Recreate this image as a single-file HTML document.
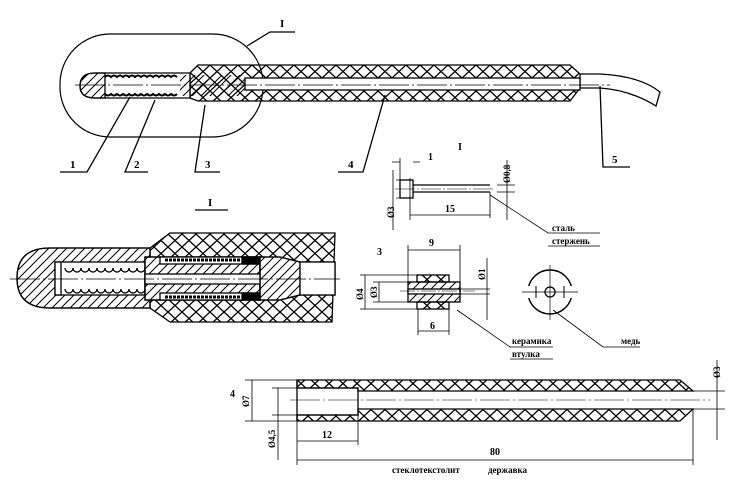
<!DOCTYPE html>
<html><head><meta charset="utf-8"><style>
html,body{margin:0;padding:0;background:#fff;width:750px;height:487px;overflow:hidden}
svg{display:block}
text{font-family:"Liberation Serif",serif;font-weight:bold;fill:#000}
</style></head><body>
<svg width="750" height="487" viewBox="0 0 750 487" xmlns="http://www.w3.org/2000/svg">
<defs>
<pattern id="x" width="14" height="13" patternUnits="userSpaceOnUse">
<path d="M0 0L14 13M14 0L0 13" stroke="#000" stroke-width="1.3"/></pattern>
<pattern id="d" width="9" height="9" patternUnits="userSpaceOnUse">
<path d="M-2 11L11 -2M-2 2L2 -2M7 11L11 7" stroke="#000" stroke-width="1"/></pattern>
</defs>
<g fill="none" stroke="#000" stroke-width="1.3">
<!-- top assembly -->
<rect x="60" y="34" width="203" height="103" rx="50" stroke-width="1.2"/>
<path d="M600 74Q640 76 660 92L656 106Q630 90 600 88" />
<path d="M580 74H600M580 88H600"/>
<path d="M190 73L198 65H570L580 74V88L570 101H198L190 98Z" fill="url(#x)"/>
<rect x="245" y="78" width="335" height="12" fill="#fff"/>
<path d="M95 73H190V98H95Q80 98 80 86Q80 73 95 73Z" fill="#fff"/>
<path d="M95 73Q80 73 80 86Q80 98 95 98H105V73Z" fill="url(#d)"/>
<rect x="180" y="75" width="65" height="21" fill="url(#d)" stroke="none"/>
<path d="M105 77Q108 74 111 77Q114 74 117 77Q120 74 123 77Q126 74 129 77Q132 74 135 77Q138 74 141 77Q144 74 147 77Q150 74 153 77Q156 74 159 77Q162 74 165 77Q168 74 171 77Q174 74 177 77" stroke-width="2"/>
<path d="M105 94Q108 97 111 94Q114 97 117 94Q120 97 123 94Q126 97 129 94Q132 97 135 94Q138 97 141 94Q144 97 147 94Q150 97 153 94Q156 97 159 94Q162 97 165 94Q168 97 171 94Q174 97 177 94" stroke-width="2"/>
<path d="M75 85H610" stroke-width="0.7" stroke-dasharray="30 3 2 3"/>
<path d="M247 46L270 32H295M130 97L87 172H60M155 100L125 172H148M205 105L195 172H220M385 95L363 172H338M600 86L603 167H630"/>
<!-- detail I -->
<path d="M150 248L170 233H335L332 322H170L150 308Z" fill="url(#x)"/>
<path d="M150 248H50Q17 248 17 278Q17 308 50 308H150Z" fill="#fff"/>
<path d="M150 248H50Q17 248 17 278Q17 308 50 308H150Z" fill="url(#d)"/>
<rect x="55" y="262" width="90" height="33" fill="#fff"/>
<rect x="145" y="257" width="115" height="43" fill="#fff"/>
<rect x="145" y="257" width="115" height="43" fill="url(#d)"/>
<rect x="160" y="257" width="100" height="7" fill="#fff"/>
<rect x="160" y="293" width="100" height="7" fill="#fff"/>
<rect x="242" y="257" width="18" height="7" fill="#000"/>
<rect x="242" y="293" width="18" height="7" fill="#000"/>
<path d="M260 257H280L300 262H335V295H300L280 300H260Z" fill="#fff"/>
<path d="M260 257H280L300 262V295L280 300H260Z" fill="url(#d)"/>
<rect x="300" y="262" width="35" height="33" fill="#fff"/>
<rect x="145" y="274" width="115" height="10" fill="#fff"/>
<rect x="55" y="262" width="6" height="33" fill="#fff"/>
<g stroke-width="1.3">
<path d="M65 268a4 4 0 1 0 8 0a4 4 0 1 0 8 0a4 4 0 1 0 8 0a4 4 0 1 0 8 0a4 4 0 1 0 8 0a4 4 0 1 0 8 0a4 4 0 1 0 8 0a4 4 0 1 0 8 0a4 4 0 1 0 8 0a4 4 0 1 0 8 0"/>
<path d="M65 289a4 4 0 1 0 8 0a4 4 0 1 0 8 0a4 4 0 1 0 8 0a4 4 0 1 0 8 0a4 4 0 1 0 8 0a4 4 0 1 0 8 0a4 4 0 1 0 8 0a4 4 0 1 0 8 0a4 4 0 1 0 8 0a4 4 0 1 0 8 0"/>
</g>
<path d="M165 260H240M165 297H240" stroke-width="3" stroke-dasharray="3 1"/>
<path d="M10 279H340" stroke-width="0.7" stroke-dasharray="30 3 2 3"/>
<path d="M195 210H228"/>
<!-- detail 1 pin -->
<rect x="400" y="180" width="13" height="18" fill="#fff"/>
<path d="M413 185H490M413 192H490" />
<path d="M395 189H495" stroke-width="0.6" stroke-dasharray="20 2 2 2"/>
<g stroke-width="0.8"><path d="M392 162H400M413 162H420M400 158V180M410 178V220M490 192V218M410 215H490M396 180H410M396 198H410M393 170V230M497 185H515M497 192H515M507 160V220M490 195L548 233H600M548 246H600"/></g>
<!-- detail 3 bush -->
<rect x="417" y="275" width="32" height="7" fill="url(#x)"/>
<rect x="417" y="302" width="32" height="7" fill="url(#x)"/>
<rect x="408" y="282" width="52" height="20" fill="url(#d)"/>
<rect x="408" y="289" width="52" height="5" fill="#fff"/>
<path d="M400 291H475" stroke-width="0.6" stroke-dasharray="15 2 2 2"/>
<g stroke-width="0.8"><path d="M408 245V282M460 245V300M408 250H460M360 275H417M373 282H408M360 309H417M373 302H408M365 275V309M379 282V302M418 309V335M449 309V335M418 331H449M460 289H490M460 294H490M487 258V320M457 310L510 347H553M510 359H553"/></g>
<!-- round part -->
<circle cx="550" cy="292" r="22" stroke-width="1.4"/>
<rect x="526" y="286" width="48" height="12" fill="#fff" stroke="none"/>
<path d="M536 286V298M564 286V298" stroke-width="1"/>
<circle cx="550" cy="292" r="5"/>
<path d="M550 265V320M522 292H578" stroke-width="0.7"/>
<path d="M553 310L603 347H640" stroke-width="0.8"/>
<!-- detail 4 -->
<path d="M297 380H680L693 391H358V388H297Z" fill="url(#x)"/>
<path d="M297 421H680L693 409H358V415H297Z" fill="url(#x)"/>
<path d="M297 380V421M297 388H358V415H297M358 391V409"/>
<path d="M290 400H710" stroke-width="0.6" stroke-dasharray="30 3 2 3"/>
<g stroke-width="0.8"><path d="M245 380H297M245 421H297M252 380V421M272 388H297M272 415H297M278 388V460M297 421V465M358 415V445M297 441H358M693 409V465M297 460H693M693 391H725M693 409H725M717 360V440"/></g>
</g>
<g font-size="11">
<text x="280" y="27">I</text>
<text x="70" y="168">1</text>
<text x="134" y="168">2</text>
<text x="205" y="168">3</text>
<text x="348" y="168">4</text>
<text x="612" y="163">5</text>
<text x="208" y="206">I</text>
<text x="458" y="150" font-size="10">I</text>
<text x="428" y="160" font-size="10">1</text>
<text x="445" y="212" font-size="10">15</text>
<text x="552" y="231" font-size="9">сталь</text>
<text x="552" y="244" font-size="9">стержень</text>
<text x="377" y="255" font-size="10">3</text>
<text x="429" y="246" font-size="10">9</text>
<text x="430" y="329" font-size="10">6</text>
<text x="512" y="344" font-size="9">керамика</text>
<text x="512" y="357" font-size="9">втулка</text>
<text x="621" y="344" font-size="9">медь</text>
<text x="230" y="397" font-size="10">4</text>
<text x="322" y="438" font-size="10">12</text>
<text x="490" y="455" font-size="10">80</text>
<text x="392" y="473" font-size="9">стеклотекстолит</text>
<text x="488" y="473" font-size="9">державка</text>
<g font-size="9">
<text transform="translate(394,218) rotate(-90)">Ø3</text>
<text transform="translate(510,183) rotate(-90)">Ø0,8</text>
<text transform="translate(363,300) rotate(-90)">Ø4</text>
<text transform="translate(377,298) rotate(-90)">Ø3</text>
<text transform="translate(485,280) rotate(-90)">Ø1</text>
<text transform="translate(249,407) rotate(-90)">Ø7</text>
<text transform="translate(275,448) rotate(-90)">Ø4,5</text>
<text transform="translate(720,378) rotate(-90)">Ø3</text>
</g>
</g>
</svg>
</body></html>
